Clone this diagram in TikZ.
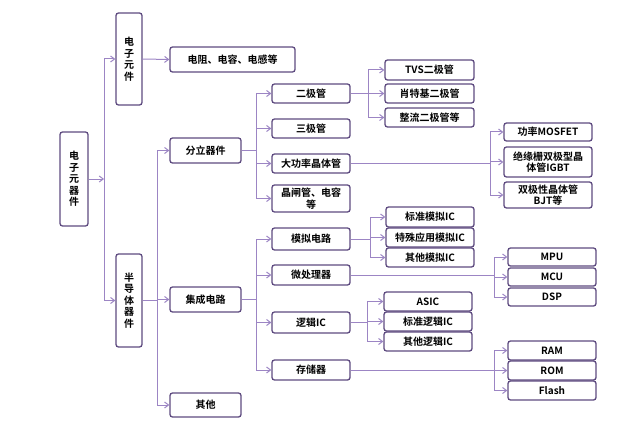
\documentclass[tikz,border=0pt]{standalone}
\usepackage{fontspec}
\setmainfont{Liberation Serif}[BoldFont={Liberation Serif Bold}]
\newfontfamily\cjk{Noto Sans CJK SC}[BoldFont={Noto Sans CJK SC Bold}]
\usetikzlibrary{arrows.meta}
\definecolor{bord}{HTML}{5E4B80}
\definecolor{lin}{HTML}{9C85C4}
\tikzset{
 box/.style={draw=bord,line width=1.3pt,rounded corners=2.5pt,fill=white,inner sep=0pt,align=center,font=\cjk\bfseries\fontsize{10}{11.5}\selectfont,text=black},
 ln/.style={draw=lin,line width=1pt},
 ar/.style={ln,-{Straight Barb[length=4pt,width=6pt]}}
}
\newcommand\bx[6]{\node[box,minimum width={#4-#2},minimum height={#5-#3},text width={#4-#2-4}] (#1) at ({(#2+#4)/2},{(#3+#5)/2}) {#6};}
\begin{document}
\begin{tikzpicture}[x=1pt,y=-1pt]
\useasboundingbox (0,0) rectangle (640,433);
\bx{root}{60}{132}{88}{226}{电\\子\\元\\器\\件}
\bx{yj}{116}{13}{142}{105}{电\\子\\元\\件}
\bx{bd}{116}{254}{142}{347}{半\\导\\体\\器\\件}
\bx{dz}{170}{47}{295}{72}{电阻、电容、电感等}
\bx{fl}{170}{138}{241}{163}{分立器件}
\bx{jc}{170}{287}{241}{312}{集成电路}
\bx{qt}{170}{393}{241}{417}{其他}
\bx{ej}{272}{84}{350}{103}{二极管}
\bx{sj}{272}{119}{350}{138}{三极管}
\bx{dg}{272}{154}{350}{173}{大功率晶体管}
\bx{jz}{272}{185}{350}{212}{晶闸管、电容\\等}
\bx{mn}{272}{228}{350}{250}{模拟电路}
\bx{wc}{272}{265}{350}{285}{微处理器}
\bx{lj}{272}{312}{350}{333}{逻辑IC}
\bx{cc}{272}{360}{350}{380}{存储器}
\bx{tvs}{385}{60}{474}{80}{TVS二极管}
\bx{xt}{385}{84}{474}{103}{肖特基二极管}
\bx{zl}{385}{108}{474}{127}{整流二极管等}
\bx{mos}{504}{123}{592}{141}{功率MOSFET}
\bx{igbt}{504}{147}{592}{177}{绝缘栅双极型晶\\体管IGBT}
\bx{bjt}{504}{182}{592}{208}{双极性晶体管\\BJT等}
\bx{bm}{386}{207}{474}{227}{标准模拟IC}
\bx{ts}{386}{228}{474}{247}{特殊应用模拟IC}
\bx{qm}{386}{248}{474}{267}{其他模拟IC}
\bx{mpu}{508}{248}{596}{266}{MPU}
\bx{mcu}{508}{268}{596}{286}{MCU}
\bx{dsp}{508}{288}{596}{306}{DSP}
\bx{asic}{384}{292}{472}{311}{ASIC}
\bx{bl}{384}{312}{472}{331}{标准逻辑IC}
\bx{ql}{384}{332}{472}{351}{其他逻辑IC}
\bx{ram}{508}{341}{596}{360}{RAM}
\bx{rom}{508}{361}{596}{380}{ROM}
\bx{fla}{508}{381}{596}{400}{Flash}
% buses
\coordinate (b1) at (104,0);
\coordinate (b2) at (157,0);
\coordinate (b3) at (256,0);
\coordinate (b4) at (368,0);
\coordinate (b5) at (490,0);
\coordinate (b6) at (370,0);
\coordinate (b7) at (494,0);
\coordinate (b8) at (367,0);
\coordinate (b9) at (494,0);
\newcommand\tree[3]{%
 \draw[ln] (#1.east) -- (#1.east -| #2);
 \foreach \c [count=\i] in {#3}{\draw[ar] (#2 |- \c.west) -- (\c.west);}
}
\draw[ar] (root.east) -- (root.east -| b1);
\draw[ln] (b1 |- yj.west) -- (b1 |- bd.west);
\foreach \c in {yj,bd}{\draw[ar] (b1 |- \c.west) -- (\c.west);}
\draw[ar] (yj.east) -- (dz.west);
\draw[ln] (bd.east) -- (bd.east -| b2);
\draw[ln] (b2 |- fl.west) -- (b2 |- qt.west);
\foreach \c in {fl,jc,qt}{\draw[ar] (b2 |- \c.west) -- (\c.west);}
\draw[ln] (fl.east) -- (fl.east -| b3);
\draw[ln] (b3 |- ej.west) -- (b3 |- jz.west);
\foreach \c in {ej,sj,dg,jz}{\draw[ar] (b3 |- \c.west) -- (\c.west);}
\draw[ln] (ej.east) -- (ej.east -| b4);
\draw[ln] (b4 |- tvs.west) -- (b4 |- zl.west);
\foreach \c in {tvs,xt,zl}{\draw[ar] (b4 |- \c.west) -- (\c.west);}
\draw[ln] (dg.east) -- (dg.east -| b5);
\draw[ln] (b5 |- mos.west) -- (b5 |- bjt.west);
\foreach \c in {mos,igbt,bjt}{\draw[ar] (b5 |- \c.west) -- (\c.west);}
\draw[ln] (jc.east) -- (jc.east -| b3);
\draw[ln] (b3 |- mn.west) -- (b3 |- cc.west);
\foreach \c in {mn,wc,lj,cc}{\draw[ar] (b3 |- \c.west) -- (\c.west);}
\draw[ln] (mn.east) -- (mn.east -| b6);
\draw[ln] (b6 |- bm.west) -- (b6 |- qm.west);
\foreach \c in {bm,ts,qm}{\draw[ar] (b6 |- \c.west) -- (\c.west);}
\draw[ln] (wc.east) -- (wc.east -| b7);
\draw[ln] (b7 |- mpu.west) -- (b7 |- dsp.west);
\foreach \c in {mpu,mcu,dsp}{\draw[ar] (b7 |- \c.west) -- (\c.west);}
\draw[ln] (lj.east) -- (lj.east -| b8);
\draw[ln] (b8 |- asic.west) -- (b8 |- ql.west);
\foreach \c in {asic,bl,ql}{\draw[ar] (b8 |- \c.west) -- (\c.west);}
\draw[ln] (cc.east) -- (cc.east -| b9);
\draw[ln] (b9 |- ram.west) -- (b9 |- fla.west);
\foreach \c in {ram,rom,fla}{\draw[ar] (b9 |- \c.west) -- (\c.west);}
\end{tikzpicture}
\end{document}
